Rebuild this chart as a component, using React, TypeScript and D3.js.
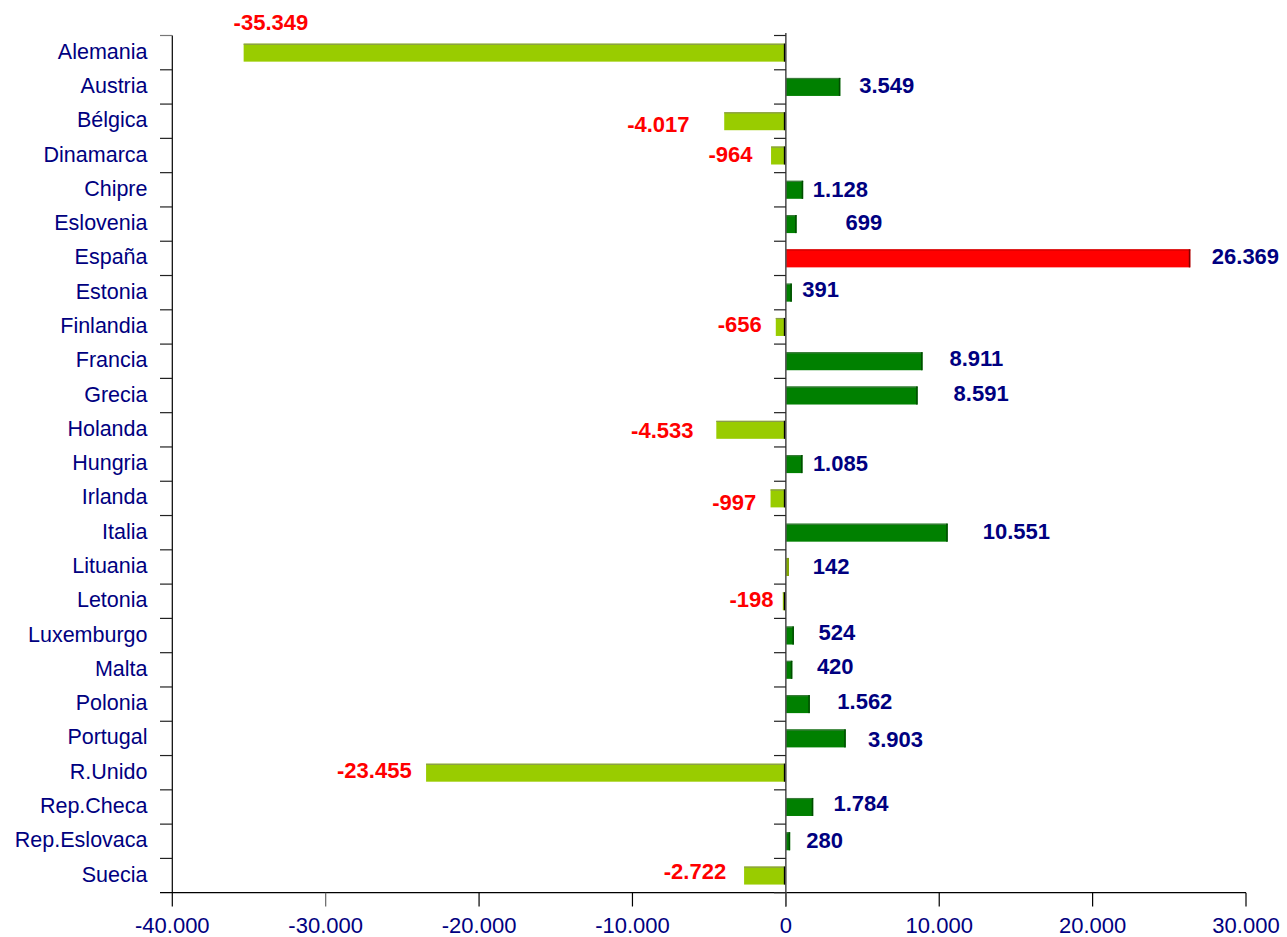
import React from "react";
import * as d3 from "d3";

const categories = [
  "Alemania", "Austria", "Bélgica", "Dinamarca", "Chipre", "Eslovenia", "España",
  "Estonia", "Finlandia", "Francia", "Grecia", "Holanda", "Hungria", "Irlanda",
  "Italia", "Lituania", "Letonia", "Luxemburgo", "Malta", "Polonia", "Portugal",
  "R.Unido", "Rep.Checa", "Rep.Eslovaca", "Suecia",
];
const values = [
  -35349, 3549, -4017, -964, 1128, 699, 26369,
  391, -656, 8911, 8591, -4533, 1085, -997,
  10551, 142, -198, 524, 420, 1562, 3903,
  -23455, 1784, 280, -2722,
];
const xTicks = [-40000, -30000, -20000, -10000, 0, 10000, 20000, 30000];

// label placement offsets (px) relative to bar end / band centre
const labelDx = [
  64.6, 19, -34.7, -18.5, 9.7, 49, 21.5,
  10.4, -14, 27, 36, -22.8, 10.4, -14.3,
  35, 24.8, -9.3, 24.7, 24.6, 27.5, 22.2,
  -14.4, 20.3, 16.1, -17.9,
];
const labelDy = [
  -30, -1, 3, -1, 0, -1.5, -1.5,
  -3, -2.5, -2.3, -2, 0.5, -0.5, 4,
  -1, 0, -2, -3, -3, -3, 1.5,
  -2.5, -3.5, -1, -4,
];

const W = 1287, H = 937;
const FONT = "'Liberation Sans', Arial, sans-serif";
const NAVY = "#000080";

const fmt = (v: number) => {
  const s = Math.abs(v).toString().replace(/\B(?=(\d{3})+(?!\d))/g, ".");
  return (v < 0 ? "-" : "") + s;
};

export default function App() {
  const x = d3.scaleLinear().domain([-40000, 30000]).range([172.3, 1246]);
  const y = d3.scaleBand<string>().domain(categories).range([35.5, 892.7]).paddingInner(0).paddingOuter(0);
  const bw = y.bandwidth();
  const barH = 18;
  const x0 = x(0);
  const axisY = 892.7;

  const barColor = (c: string, v: number) => {
    if (c === "España") return { fill: "#FF0000", edge: "#800000", top: "#cc0000" };
    if (c === "Lituania") return { fill: "#99CC00", edge: "#7a9a00", top: "#8a9a50" };
    if (v < 0) return { fill: "#99CC00", edge: "#000000", top: "#8a9a50" };
    return { fill: "#008000", edge: "#004d00", top: "#3d7a3d" };
  };

  return (
    <div style={{ position: "absolute", left: 0, top: 0, width: W, height: H, background: "#fff" }}>
      <svg width={W} height={H} style={{ display: "block" }}>
        <rect x={0} y={0} width={W} height={H} fill="#fff" />
        {/* left axis */}
        <line x1={172.3} x2={172.3} y1={35.5} y2={axisY} stroke="#000" strokeWidth={1.2} />
        {categories.map((c, i) => (
          <line key={"lt" + i} x1={160} x2={172.3} y1={y(c)!} y2={y(c)!} stroke={i === 0 ? "#777" : "#222"} strokeWidth={1.2} />
        ))}
        {/* x axis */}
        <line x1={160} x2={1246} y1={axisY} y2={axisY} stroke="#000" strokeWidth={1.2} />
        {xTicks.map((t) => (
          <g key={"xt" + t}>
            <line x1={x(t)} x2={x(t)} y1={axisY} y2={906.5} stroke={t === -30000 ? "#666" : "#000"} strokeWidth={1.2} />
            <text x={x(t)} y={925} textAnchor="middle" dominantBaseline="central" fontFamily={FONT} fontSize={22} fill={NAVY}>
              {fmt(t)}
            </text>
          </g>
        ))}
        {/* bars */}
        {categories.map((c, i) => {
          const v = values[i];
          const col = barColor(c, v);
          const xa = Math.min(x(v), x0);
          const xb = Math.max(x(v), x0);
          const yc = y(c)! + bw / 2;
          const yt = yc - barH / 2;
          const w = Math.max(xb - xa, 3);
          return (
            <g key={"b" + i}>
              <rect x={v > 0 ? xa : xb - w} y={yt} width={w} height={barH} fill={col.fill} />
              <rect x={v > 0 ? xa : xb - w} y={yt} width={w} height={1.2} fill={col.top} />
              {v > 0 ? (
                <rect x={xa + w - 1.5} y={yt} width={1.5} height={barH} fill={col.edge} />
              ) : (
                <rect x={x0 - 2} y={yt} width={2} height={barH} fill={col.edge} />
              )}
            </g>
          );
        })}
        {/* zero line */}
        <line x1={x0} x2={x0} y1={33} y2={906.5} stroke="#555" strokeWidth={1.6} />
        {categories.map((c, i) => (
          <line key={"zt" + i} x1={774} x2={x0} y1={y(c)!} y2={y(c)!} stroke="#222" strokeWidth={1.2} />
        ))}
        <line x1={774} x2={x0} y1={axisY} y2={axisY} stroke="#222" strokeWidth={1.2} />
        {/* category labels */}
        {categories.map((c, i) => (
          <text key={"cl" + i} x={147.5} y={y(c)! + bw / 2 - 1} textAnchor="end" dominantBaseline="central"
            fontFamily={FONT} fontSize={21.5} fill={NAVY}>
            {c}
          </text>
        ))}
        {/* value labels */}
        {categories.map((c, i) => {
          const v = values[i];
          const yc = y(c)! + bw / 2 + labelDy[i];
          return (
            <text key={"vl" + i} x={x(v) + labelDx[i]} y={yc} textAnchor={v < 0 ? "end" : "start"}
              dominantBaseline="central" fontFamily={FONT} fontSize={22} fontWeight="bold"
              fill={v < 0 ? "#FF0000" : NAVY}>
              {fmt(v)}
            </text>
          );
        })}
      </svg>
    </div>
  );
}
